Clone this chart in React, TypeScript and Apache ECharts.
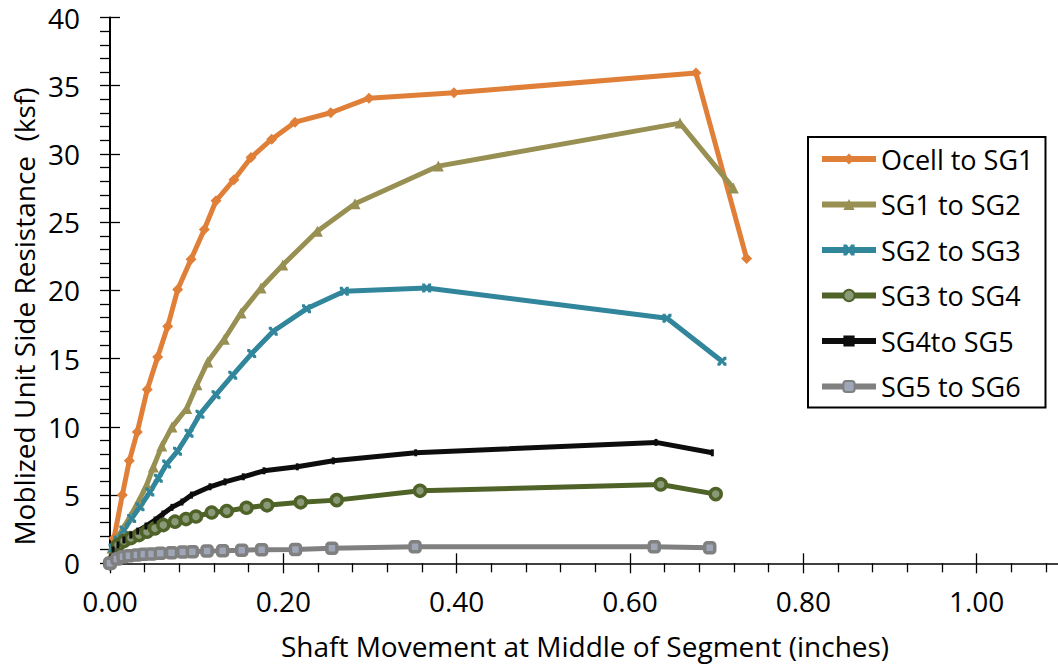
import React, { useEffect, useRef } from "react";
import * as echarts from "echarts";

const seriesNames = ["Ocell to SG1", "SG1 to SG2", "SG2 to SG3", "SG3 to SG4", "SG4to SG5", "SG5 to SG6"];

const ocellToSG1: [number, number][] = [
  [0, 0], [0.0046, 1.83], [0.0142, 5.0], [0.0223, 7.51], [0.0315, 9.63], [0.043, 12.74],
  [0.055, 15.12], [0.0666, 17.37], [0.0781, 20.06], [0.0935, 22.28], [0.1088, 24.47],
  [0.1223, 26.57], [0.143, 28.11], [0.1627, 29.74], [0.1866, 31.08], [0.2135, 32.33],
  [0.2547, 33.02], [0.2988, 34.09], [0.3969, 34.48], [0.6761, 35.94], [0.7346, 22.33],
];

const sg1ToSG2: [number, number][] = [
  [0, 0], [0.0023, 1.12], [0.0077, 1.83], [0.0153, 2.56], [0.0231, 3.41], [0.0327, 4.51],
  [0.0423, 5.73], [0.05, 7.05], [0.0597, 8.59], [0.0715, 9.98], [0.0885, 11.35],
  [0.1004, 13.09], [0.1127, 14.76], [0.1319, 16.42], [0.1512, 18.35], [0.1742, 20.18],
  [0.1993, 21.86], [0.2392, 24.33], [0.2827, 26.35], [0.3788, 29.11], [0.6577, 32.26],
  [0.7192, 27.5],
];

const sg2ToSG3: [number, number][] = [
  [0, 0], [0.0035, 1.12], [0.009, 1.71], [0.016, 2.44], [0.025, 3.29], [0.0346, 4.14],
  [0.046, 5.22], [0.0557, 6.24], [0.0654, 7.27], [0.0779, 8.22], [0.0912, 9.54],
  [0.1038, 10.93], [0.1223, 12.36], [0.1416, 13.79], [0.1635, 15.37], [0.1884, 17.01],
  [0.2267, 18.65], [0.2703, 19.93], [0.3654, 20.18], [0.6427, 17.96], [0.7061, 14.81],
];

const sg3ToSG4: [number, number][] = [
  [0, 0], [0.0092, 1.34], [0.0162, 1.63], [0.0242, 1.85], [0.0335, 2.07], [0.0427, 2.31],
  [0.0519, 2.56], [0.0615, 2.8], [0.075, 3.05], [0.0877, 3.24], [0.0992, 3.43],
  [0.1173, 3.72], [0.1347, 3.83], [0.1575, 4.07], [0.1812, 4.25], [0.22, 4.47],
  [0.2616, 4.63], [0.3577, 5.31], [0.6354, 5.78], [0.6989, 5.07],
];

const sg4ToSG5: [number, number][] = [
  [0, 0], [0.0035, 0.97], [0.0092, 1.34], [0.016, 1.71], [0.024, 2.07], [0.032, 2.36],
  [0.0415, 2.73], [0.052, 3.17], [0.061, 3.61], [0.0715, 4.1], [0.083, 4.49],
  [0.094, 5.0], [0.1154, 5.61], [0.1327, 5.97], [0.1538, 6.34], [0.1777, 6.78],
  [0.2161, 7.07], [0.2576, 7.51], [0.3527, 8.1], [0.63, 8.86], [0.695, 8.1],
];

const sg5ToSG6: [number, number][] = [
  [0, 0], [0.008, 0.31], [0.015, 0.48], [0.022, 0.56], [0.031, 0.61], [0.039, 0.66],
  [0.048, 0.68], [0.058, 0.73], [0.071, 0.78], [0.084, 0.83], [0.095, 0.85],
  [0.112, 0.9], [0.13, 0.92], [0.152, 0.95], [0.175, 1.0], [0.214, 1.02],
  [0.256, 1.1], [0.352, 1.22], [0.628, 1.22], [0.692, 1.14],
];

const xTitle = "Shaft Movement at Middle of Segment (inches)";
const yTitle = "Moblized Unit Side Resistance  (ksf)";

const FONT = "'Open Sans', sans-serif";
const X_SYMBOL =
  "path://M0,0 L3,0 L5,3 L7,0 L10,0 L10,3 L7,5 L10,7 L10,10 L7,10 L5,7 L3,10 L0,10 L0,7 L3,5 L0,3 Z";

export default function App() {
  const ref = useRef<HTMLDivElement>(null);
  useEffect(() => {
    if (!ref.current) return;
    const chart = echarts.init(ref.current, undefined, { renderer: "svg" });
    const line = (
      name: string,
      data: [number, number][],
      color: string,
      symbol: string,
      symbolSize: any,
      itemStyle: any
    ) => ({
      name,
      type: "line",
      data,
      xAxisIndex: 0,
      yAxisIndex: 0,
      symbol,
      symbolSize,
      showAllSymbol: true,
      lineStyle: { color, width: 5 },
      itemStyle: { color, ...itemStyle },
      emphasis: { disabled: true },
      z: 3,
    });
    const tickStyle = { color: "#000", width: 1.3 };
    chart.setOption({
      animation: false,
      textStyle: { fontFamily: FONT },
      grid: {
        left: 110,
        top: 17.5,
        bottom: 106.7,
        right: -92,
        containLabel: false,
        outerBoundsMode: "none",
      },
      xAxis: [
        {
          type: "value",
          min: 0,
          max: 1.2,
          interval: 0.2,
          position: "bottom",
          axisLine: { show: true, lineStyle: { color: "#000", width: 1.5 } },
          axisTick: { show: true, length: 10, lineStyle: tickStyle },
          minorTick: { show: true, splitNumber: 5, length: 9, lineStyle: tickStyle },
          splitLine: { show: false },
          axisLabel: {
            fontSize: 28,
            fontFamily: FONT,
            color: "#000",
            margin: 24,
            formatter: (v: number) => (v > 1.05 ? "" : v.toFixed(2)),
          },
        },
        {
          type: "value",
          min: 0,
          max: 1.2,
          interval: 0.2,
          position: "bottom",
          axisLine: { show: false },
          axisTick: { show: true, inside: true, length: 10, lineStyle: tickStyle },
          axisLabel: { show: false },
          splitLine: { show: false },
        },
      ],
      yAxis: [
        {
          type: "value",
          min: 0,
          max: 40,
          interval: 5,
          position: "left",
          axisLine: { show: true, lineStyle: { color: "#000", width: 2 } },
          axisTick: { show: true, length: 10, lineStyle: tickStyle },
          minorTick: { show: true, splitNumber: 5, length: 10, lineStyle: tickStyle },
          splitLine: { show: false },
          axisLabel: { fontSize: 28, fontFamily: FONT, color: "#000", margin: 30 },
        },
        {
          type: "value",
          min: 0,
          max: 40,
          interval: 5,
          position: "left",
          axisLine: { show: false },
          axisTick: { show: true, inside: true, length: 10, lineStyle: tickStyle },
          axisLabel: { show: false },
          splitLine: { show: false },
        },
      ],
      legend: {
        orient: "vertical",
        left: 808,
        top: 137,
        data: seriesNames,
        itemWidth: 54,
        itemHeight: 14,
        itemGap: 13.5,
        padding: [6, 12, 5, 11],
        borderColor: "#000",
        borderWidth: 2,
        backgroundColor: "#fff",
        selectedMode: false,
        lineStyle: { width: 6 },
        textStyle: { fontSize: 27, fontFamily: FONT, color: "#000", lineHeight: 32 },
      },
      graphic: [
        {
          type: "text",
          x: 585,
          y: 646,
          style: {
            text: xTitle,
            font: `28px ${FONT}`,
            fill: "#000",
            textAlign: "center",
            textVerticalAlign: "middle",
          },
        },
        {
          type: "text",
          x: 24,
          y: 316.5,
          rotation: Math.PI / 2,
          style: {
            text: yTitle,
            font: `28px ${FONT}`,
            fill: "#000",
            textAlign: "center",
            textVerticalAlign: "middle",
          },
        },
      ],
      series: [
        line(seriesNames[0], ocellToSG1, "#E07F38", "diamond", 11, {}),
        line(seriesNames[1], sg1ToSG2, "#988F52", "triangle", 11, {}),
        line(seriesNames[2], sg2ToSG3, "#31869B", X_SYMBOL, 9, {}),
        line(seriesNames[3], sg3ToSG4, "#4F6228", "circle", 11, {
          color: "#8A9A78",
          borderColor: "#4F6228",
          borderWidth: 3.5,
        }),
        line(seriesNames[4], sg4ToSG5, "#0D0D0D", "rect", [3, 7], {}),
        line(seriesNames[5], sg5ToSG6, "#808080", "roundRect", 10, {
          color: "#9EA6B8",
          borderColor: "#808080",
          borderWidth: 3.5,
        }),
      ],
    });
    return () => chart.dispose();
  }, []);
  return (
    <div
      ref={ref}
      style={{ position: "fixed", left: 0, top: 0, width: 1058, height: 670, overflow: "hidden", background: "#fff" }}
    />
  );
}
